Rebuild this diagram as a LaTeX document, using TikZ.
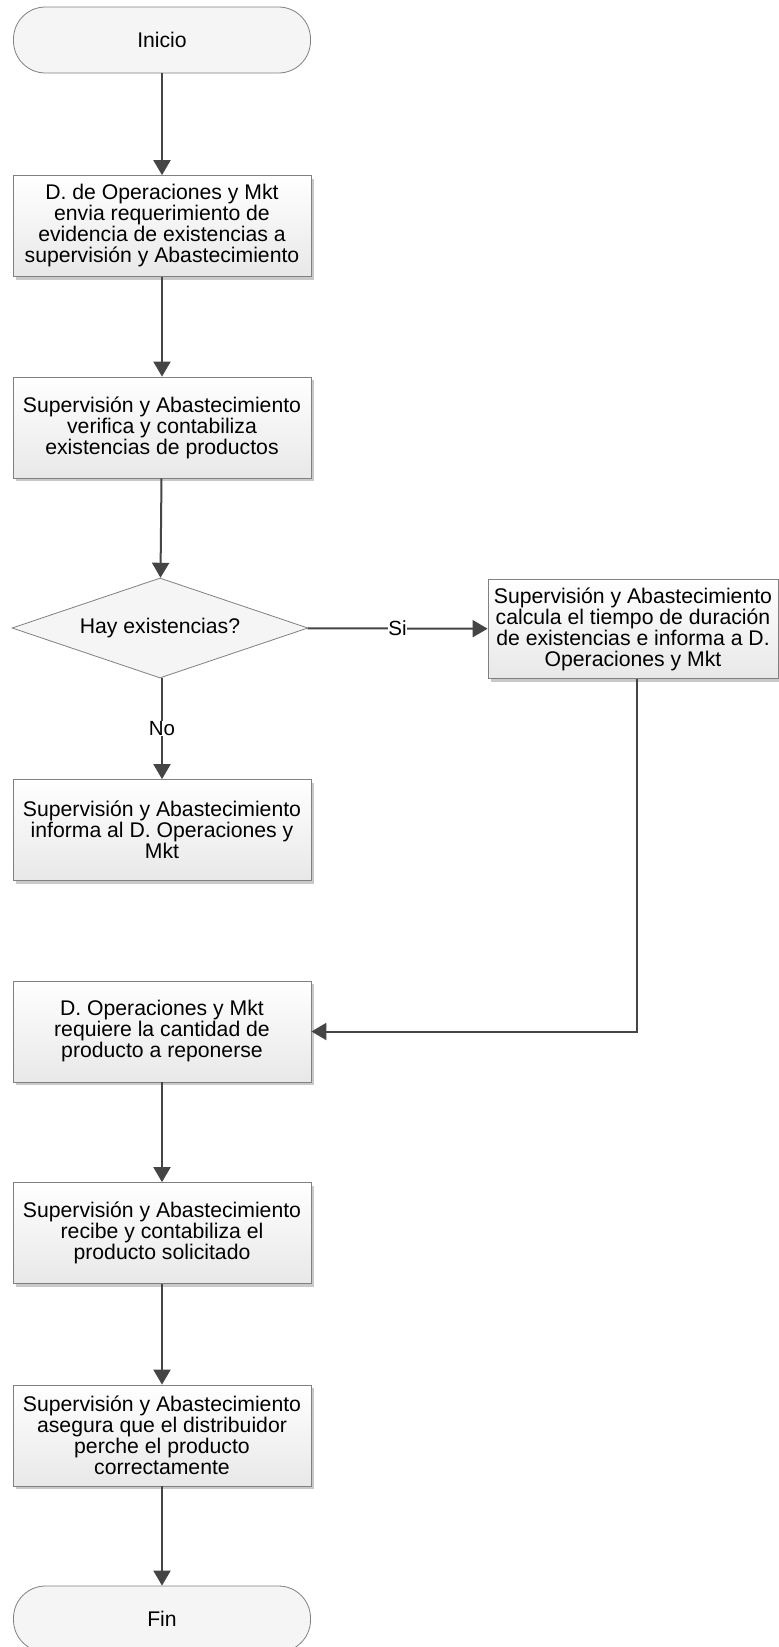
\documentclass[tikz,border=0pt]{standalone}
\usepackage{fontspec}
\setmainfont{Liberation Sans}
\usetikzlibrary{shapes.geometric,arrows.meta,shadows}
\definecolor{lc}{HTML}{454545}
\definecolor{bc}{HTML}{808080}
\begin{document}
\begin{tikzpicture}[x=1pt,y=-1pt,
 every node/.style={font=\fontsize{21.2}{21}\selectfont},
 proc/.style={draw=bc, line width=0.8pt, top color=white, bottom color=black!9, minimum width=298pt, minimum height=101pt, align=center, inner sep=2pt, drop shadow={shadow xshift=3pt, shadow yshift=-3pt, fill=black!35, opacity=0.6}},
 term/.style={draw=bc, line width=0.8pt, fill=black!4, rounded corners=32pt, minimum width=297pt, minimum height=66pt},
 dec/.style={diamond, draw=bc, line width=0.8pt, fill=black!4, minimum width=296pt, minimum height=100pt, aspect=2.96, inner sep=0pt},
 conn/.style={draw=lc, line width=2pt, -{Triangle[width=17pt,length=15pt]}},
 lbl/.style={fill=white, inner sep=0.5pt, font=\fontsize{20.5}{20.5}\selectfont}
]
\clip (0,0) rectangle (779,1647);
\fill[white] (0,0) rectangle (779,1647);
\node[term] (start) at (162,40) {Inicio};
\node[proc] (b1) at (162,226) {D. de Operaciones y Mkt\\envia requerimiento de\\evidencia de existencias a\\supervisión y Abastecimiento};
\node[proc] (b2) at (162,427.5) {Supervisión y Abastecimiento\\verifica y contabiliza\\existencias de productos};
\node[dec] (d) at (160,628) {Hay existencias?};
\node[proc, minimum width=290pt, minimum height=99pt] (b3) at (633,629) {Supervisión y Abastecimiento\\calcula el tiempo de duración\\de existencias e informa a D.\\Operaciones y Mkt};
\node[proc] (b4) at (162,830) {Supervisión y Abastecimiento\\informa al D. Operaciones y\\Mkt};
\node[proc] (b5) at (162,1031.5) {D. Operaciones y Mkt\\requiere la cantidad de\\producto a reponerse};
\node[proc] (b6) at (162,1233) {Supervisión y Abastecimiento\\recibe y contabiliza el\\producto solicitado};
\node[proc] (b7) at (162,1435.5) {Supervisión y Abastecimiento\\asegura que el distribuidor\\perche el producto\\correctamente};
\node[term] (fin) at (162,1619) {Fin};
\draw[conn] (start) -- (b1);
\draw[conn] (b1) -- (b2);
\draw[conn] (b2) -- (d);
\draw[conn] (d) -- node[lbl]{Si} (b3);
\draw[conn] (d.south -| b4.north) -- node[lbl]{No} (b4);
\draw[conn] ([xshift=4pt]b3.south) |- (b5.east);
\draw[conn] (b5) -- (b6);
\draw[conn] (b6) -- (b7);
\draw[conn] (b7) -- (fin);
\end{tikzpicture}
\end{document}
